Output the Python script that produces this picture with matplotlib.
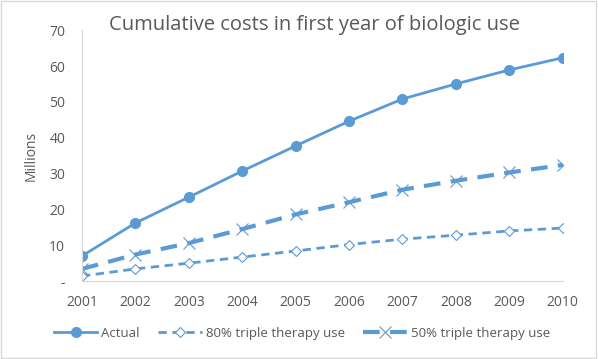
import matplotlib.pyplot as plt
from matplotlib.lines import Line2D

years = [2001, 2002, 2003, 2004, 2005, 2006, 2007, 2008, 2009, 2010]
actual = [7.0, 16.2, 23.4, 30.7, 37.7, 44.6, 50.8, 55.0, 58.9, 62.3]
triple_80 = [1.4, 3.4, 5.0, 6.7, 8.4, 10.2, 11.7, 12.8, 14.0, 14.8]
triple_50 = [3.4, 7.4, 10.6, 14.5, 18.6, 22.0, 25.5, 28.0, 30.3, 32.4]
y_ticks = [0, 10, 20, 30, 40, 50, 60, 70]
y_labels = ["-", "10", "20", "30", "40", "50", "60", "70"]

BLUE = "#5B9BD5"
GREY = "#595959"
plt.rcParams['font.family'] = ['Open Sans', 'DejaVu Sans']

fig = plt.figure(figsize=(5.98, 3.59), dpi=100)
ax = fig.add_axes([0.137, 0.217, 0.804, 0.699])

ax.plot(years, actual, color=BLUE, lw=2, marker="o", ms=7, label="Actual")
ax.plot(years, triple_80, color=BLUE, lw=2, ls=(0, (3, 2)), marker="D", ms=5,
        mfc="white", mec=BLUE, mew=0.8, label="80% triple therapy use")
ax.plot(years, triple_50, color=BLUE, lw=3, ls=(0, (4, 2.5)), marker="x", ms=8,
        mew=0.8, label="50% triple therapy use")

ax.set_xlim(2001, 2010)
ax.set_ylim(0, 70)
ax.set_xticks(years)
ax.set_yticks(y_ticks)
ax.set_yticklabels(y_labels)
ax.tick_params(length=0, colors=GREY, labelsize=10, pad=10)
ax.tick_params(axis="y", pad=12)
for s in ["top", "right"]:
    ax.spines[s].set_visible(False)
for s in ["left", "bottom"]:
    ax.spines[s].set_color("#D9D9D9")
ax.set_ylabel("Millions", color=GREY, fontsize=10, labelpad=8)
fig.text(0.526, 0.93, "Cumulative costs in first year of biologic use", color=GREY,
         fontsize=14.5, ha="center", va="center")

handles = [
    Line2D([], [], color=BLUE, lw=2, marker="o", ms=7),
    Line2D([], [], color=BLUE, lw=2, ls=(0, (3, 2)), marker="D", ms=5, mfc="white", mec=BLUE, mew=0.8),
    Line2D([], [], color=BLUE, lw=3, ls=(0, (4, 2.5)), marker="x", ms=8, mew=0.8),
]
leg = fig.legend(handles, ["Actual", "80% triple therapy use", "50% triple therapy use"],
                 loc="center", bbox_to_anchor=(0.505, 0.072), ncol=3, frameon=False,
                 fontsize=9.5, handlelength=3.3, columnspacing=1.4, handletextpad=0.3)
for t in leg.get_texts():
    t.set_color(GREY)

fig.patches.append(plt.Rectangle((0.002, 0.003), 0.995, 0.994, transform=fig.transFigure,
                                 fill=False, ec="#D9D9D9", lw=1))
fig.savefig("out.png", dpi=100)
